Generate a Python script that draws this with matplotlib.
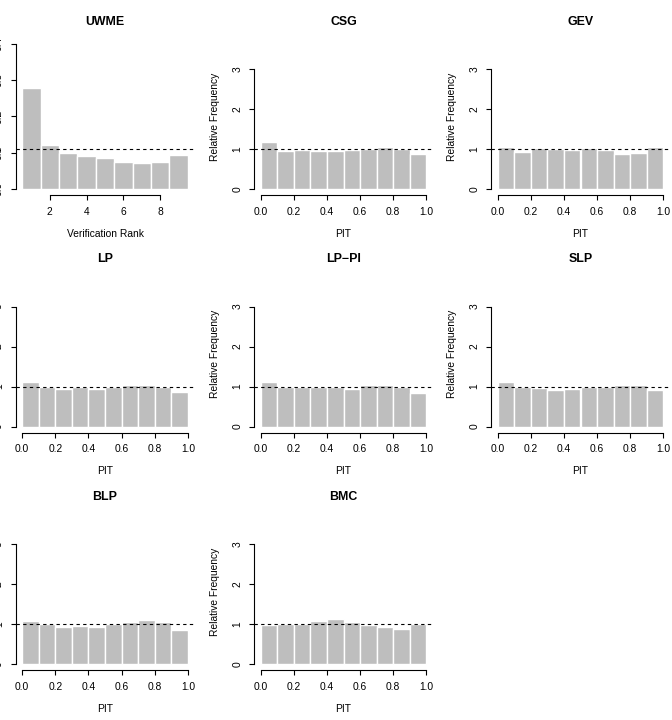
import numpy as np
import matplotlib
matplotlib.use('Agg')
import matplotlib.pyplot as plt

plt.rcParams['font.family'] = ['Liberation Sans', 'DejaVu Sans']

# verification rank histogram (UWME ensemble, 8 members -> 9 ranks)
ranks = np.arange(1, 10)
uwme_freq = [0.277, 0.120, 0.098, 0.090, 0.085, 0.074, 0.072, 0.075, 0.095]

# PIT histograms, 10 bins on [0, 1]
pit_breaks = np.linspace(0, 1, 11)
csg = [1.18, 0.96, 0.975, 0.94, 0.94, 0.965, 0.99, 1.05, 0.99, 0.87]
gev = [1.06, 0.93, 1.02, 1.00, 0.975, 1.03, 0.975, 0.88, 0.91, 1.04]
lp = [1.12, 0.98, 0.95, 0.99, 0.94, 0.99, 1.03, 1.03, 0.98, 0.86]
lp_pi = [1.12, 0.98, 0.99, 0.99, 0.99, 0.94, 1.03, 1.03, 0.99, 0.84]
slp = [1.12, 0.99, 0.96, 0.91, 0.95, 0.99, 0.99, 1.03, 1.03, 0.91]
blp = [1.08, 1.00, 0.93, 0.96, 0.92, 1.00, 1.06, 1.09, 1.06, 0.85]
bmc = [0.97, 1.00, 1.00, 1.07, 1.12, 1.06, 0.97, 0.93, 0.87, 1.00]

pit_titles = ['CSG', 'GEV', 'LP', 'LP\u2212PI', 'SLP', 'BLP', 'BMC']
pit_data = [csg, gev, lp, lp_pi, slp, blp, bmc]

W, H = 672, 720
fig = plt.figure(figsize=(W / 100, H / 100), dpi=100)

col_x = [15.5, 254, 491]
row_top = [38, 275.5, 513]
aw, ah = 179, 157
fs = 7.4
bar_col = '#BEBEBE'


def make_ax(r, c):
    x0 = col_x[c]
    y0 = row_top[r]
    ax = fig.add_axes([x0 / W, 1 - (y0 + ah) / H, aw / W, ah / H])
    ax.patch.set_alpha(0)
    for s in ['top', 'right']:
        ax.spines[s].set_visible(False)
    for s in ['left', 'bottom']:
        ax.spines[s].set_linewidth(0.8)
    ax.tick_params(direction='out', length=3.3, width=0.8, labelsize=fs, pad=5)
    for lab in ax.get_yticklabels():
        pass
    return ax


def finish(ax, title, xlab, ylab=True):
    ax.text(0.5, 1 + 16 / ah, title, transform=ax.transAxes, ha='center',
            va='center', fontsize=fs * 1.2, fontweight='bold')
    ax.text(0.5, -39 / ah, xlab, transform=ax.transAxes, ha='center',
            va='center', fontsize=fs)
    if ylab:
        ax.text(-39 / aw, 0.5, 'Relative Frequency', transform=ax.transAxes,
                ha='center', va='center', rotation=90, fontsize=fs)
    plt.setp(ax.get_yticklabels(), rotation=90, va='center')


# UWME panel
ax = make_ax(0, 0)
ax.bar(ranks, uwme_freq, width=1, color=bar_col, edgecolor='white', linewidth=1)
ax.axhline(1 / 9, color='black', lw=0.8, ls=(0, (3, 3)))
ax.set_xlim(0.14, 9.86)
ax.set_ylim(-0.0165, 0.416)
ax.set_xticks([2, 4, 6, 8])
ax.set_yticks([0.0, 0.1, 0.2, 0.3, 0.4])
ax.set_yticklabels(['0.0', '0.1', '0.2', '0.3', '0.4'])
ax.spines['bottom'].set_bounds(2, 8)
ax.spines['left'].set_bounds(0, 0.4)
finish(ax, 'UWME', 'Verification Rank', ylab=False)

positions = [(0, 1), (0, 2), (1, 0), (1, 1), (1, 2), (2, 0), (2, 1)]
for (r, c), title, vals in zip(positions, pit_titles, pit_data):
    ax = make_ax(r, c)
    ax.bar(pit_breaks[:-1], vals, width=np.diff(pit_breaks), align='edge',
           color=bar_col, edgecolor='white', linewidth=1)
    ax.axhline(1, color='black', lw=0.8, ls=(0, (3, 3)))
    ax.set_xlim(-0.04, 1.04)
    ax.set_ylim(-0.15, 3.775)
    ax.set_xticks([0.0, 0.2, 0.4, 0.6, 0.8, 1.0])
    ax.set_xticklabels(['0.0', '0.2', '0.4', '0.6', '0.8', '1.0'])
    ax.set_yticks([0, 1, 2, 3])
    ax.spines['bottom'].set_bounds(0, 1)
    ax.spines['left'].set_bounds(0, 3)
    finish(ax, title, 'PIT', ylab=(c != 0))

fig.savefig('out.png', dpi=100)
